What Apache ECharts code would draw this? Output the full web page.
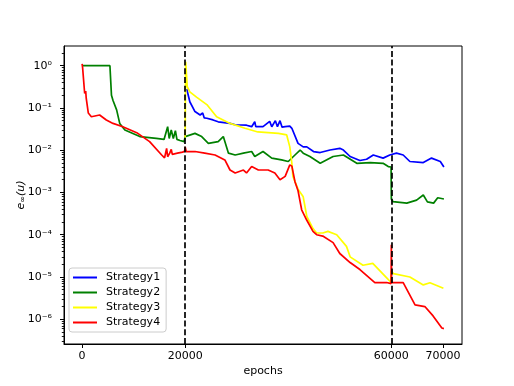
<!DOCTYPE html>
<html>
<head>
<meta charset="utf-8">
<script src="https://cdn.jsdelivr.net/npm/echarts@6/dist/echarts.min.js"></script>
<style>
  html, body { margin: 0; padding: 0; background: #fff; }
  #main { width: 514px; height: 386px; }
</style>
</head>
<body>
<div id="main"></div>
<script>
// series names / colours
var names = ['Strategy1', 'Strategy2', 'Strategy3', 'Strategy4'];
var colors = ['#0000ff', '#008000', '#ffff00', '#ff0000'];

// axis ticks
var xTicks = [0, 20000, 60000, 70000];
var yTicks = [1e-6, 1e-5, 1e-4, 1e-3, 1e-2, 1e-1, 1];
var switchEpochs = [20000, 60000];

// Strategy1 (blue)
var s1X = [20300, 20900, 21900, 22900, 23400, 23700, 24200, 25400, 26400, 28700, 29700, 31900, 32900, 33500, 33700,
  35100, 36400, 36800, 37500, 37900, 38400, 38800, 39400, 40300, 40700, 41900, 42900, 43600, 44900, 46200, 48100,
  50000, 50700, 52000, 53900, 55200, 56500, 58400, 59700, 61000, 62300, 63600, 66200, 67800, 69500, 70200];
var s1Y = [0.28, 0.14, 0.082, 0.068, 0.076, 0.058, 0.057, 0.052, 0.047, 0.043, 0.040, 0.039, 0.036, 0.047, 0.036,
  0.036, 0.048, 0.036, 0.05, 0.036, 0.05, 0.035, 0.036, 0.037, 0.033, 0.0145, 0.012, 0.012, 0.0093, 0.0088, 0.0101,
  0.0111, 0.0101, 0.0071, 0.0057, 0.0061, 0.0077, 0.0065, 0.0077, 0.0085, 0.0077, 0.0054, 0.0051, 0.0065, 0.0054, 0.0040];

// Strategy2 (green)
var s2X = [0, 5400, 5700, 6000, 6700, 7300, 8300, 11200, 14400, 15900, 16600, 16900, 17300, 17700, 18100, 18400, 19000, 19800,
  20000, 21900, 23200, 24500, 26400, 27400, 28400, 29700, 31300, 32900, 33500, 35100, 36800, 38700, 40000, 41300, 42300,
  42900, 44200, 46200, 48700, 50700, 53300, 55900, 58400, 59400, 59950, 60000, 60300, 63000, 64900, 66200, 67000, 68200, 69000, 70200];
var s2Y = [1.0, 1.0, 0.2, 0.15, 0.09, 0.043, 0.030, 0.021, 0.019, 0.018, 0.036, 0.019, 0.030, 0.019, 0.029, 0.018, 0.017, 0.016,
  0.021, 0.025, 0.021, 0.0145, 0.016, 0.021, 0.0085, 0.0077, 0.0085, 0.0093, 0.0071, 0.0093, 0.0065, 0.0059, 0.0054, 0.0077, 0.0101,
  0.0085, 0.0071, 0.0049, 0.0071, 0.0077, 0.0049, 0.0051, 0.0049, 0.0041, 0.0040, 0.0007, 0.00061, 0.00056, 0.00066, 0.00087, 0.0006, 0.00056, 0.00075, 0.0007];

// Strategy3 (yellow)
var s3X = [20000, 20100, 20400, 20900, 22200, 24200, 26100, 28700, 31600, 34100, 38100, 39700, 40300, 40700, 40900, 41900,
  42900, 43600, 44800, 45500, 46700, 47700, 49400, 51300, 52000, 54500, 56400, 59100, 59900, 60000, 60400, 63600, 66200, 67500, 70100, 70200];
var s3Y = [0.02, 1.24, 0.32, 0.24, 0.18, 0.12, 0.062, 0.043, 0.033, 0.027, 0.025, 0.023, 0.012, 0.0049, 0.0024, 0.0012,
  0.00079, 0.00027, 0.00014, 0.00011, 0.00011, 0.00012, 0.0001, 0.000053, 0.00003, 0.000019, 0.000021, 0.0000095, 0.0000075, 0.000014,
  0.000012, 0.00001, 0.0000065, 0.0000073, 0.0000054, 0.0000055];

// Strategy4 (red)
var s4X = [0, 100, 500, 700, 800, 1200, 1800, 3400, 4700, 6000, 7900, 10600, 13100, 15400, 16000, 16400, 16600, 17000, 17300, 17500,
  18500, 19500, 19900, 20000, 20200, 21900, 23800, 25800, 27700, 28700, 29700, 31300, 31900, 32900, 34200, 36100, 37400, 38400,
  39400, 40300, 40700, 41300, 41900, 42600, 43600, 44800, 45500, 46700, 48700, 50000, 52000, 53900, 56800, 59100, 59950, 60000,
  60050, 62300, 64600, 66500, 68100, 69800, 70200];
var s4Y = [1.1, 0.9, 0.22, 0.25, 0.17, 0.076, 0.062, 0.068, 0.052, 0.043, 0.036, 0.026, 0.016, 0.0078, 0.0066, 0.011, 0.007, 0.0085, 0.0105, 0.008,
  0.0085, 0.009, 0.0095, 0.012, 0.0093, 0.0093, 0.0085, 0.0077, 0.0059, 0.0034, 0.0029, 0.0034, 0.0029, 0.0041, 0.0034, 0.0034, 0.0029, 0.002,
  0.0024, 0.0045, 0.0042, 0.0018, 0.0011, 0.00039, 0.00022, 0.00012, 0.0001, 0.000093, 0.000065, 0.000036, 0.000022, 0.000015, 0.0000074, 0.0000074, 0.000007, 0.000058,
  0.0000074, 0.0000074, 0.0000022, 0.000002, 0.0000012, 0.00000062, 0.0000006];

var xs = [s1X, s2X, s3X, s4X];
var ys = [s1Y, s2Y, s3Y, s4Y];

// 10^n with superscript exponent
var sup = {'0':'⁰','1':'¹','2':'²','3':'³','4':'⁴','5':'⁵','6':'⁶','7':'⁷','8':'⁸','9':'⁹','-':'⁻'};
function powLabel(v) {
    var e = String(Math.round(Math.log10(v)));
    var s = '';
    for (var i = 0; i < e.length; i++) s += sup[e[i]];
    return '10' + s;
}

// minor ticks 2..9 x 10^k
var yMinor = [];
for (var k = -7; k <= 0; k++) {
    for (var m = 2; m <= 9; m++) yMinor.push(m * Math.pow(10, k));
}

var font = 'DejaVu Sans';
var series = [];
for (var i = 0; i < names.length; i++) {
    var pts = [];
    for (var j = 0; j < xs[i].length; j++) pts.push([xs[i][j], ys[i][j]]);
    var s = {
        name: names[i],
        type: 'line',
        data: pts,
        showSymbol: false,
        symbol: 'none',
        lineStyle: { color: colors[i], width: 1.7 },
        itemStyle: { color: colors[i] },
        animation: false
    };
    if (i == 0) {
        // 策略切换处的竖虚线
        s.markLine = {
            silent: true,
            symbol: ['none', 'none'],
            label: { show: false },
            lineStyle: { color: '#000', type: [6, 2.7], width: 1.7 },
            data: switchEpochs.map(function (v) { return { xAxis: v }; })
        };
    }
    series.push(s);
}

var myChart = echarts.init(document.getElementById('main'));
var option = {
    animation: false,
    backgroundColor: '#fff',
    grid: { left: 64, top: 46, right: 52, bottom: 42, show: true, borderColor: '#000', borderWidth: 1, backgroundColor: 'transparent' },
    legend: {
        left: 69, top: 268, orient: 'vertical',
        icon: 'rect', itemWidth: 24, itemHeight: 2, itemGap: 4,
        padding: [4, 6, 4, 4],
        backgroundColor: 'rgba(255,255,255,0.8)',
        borderColor: '#cccccc', borderWidth: 1, borderRadius: 3,
        textStyle: { fontFamily: font, fontSize: 11, color: '#000', padding: [0, 0, 0, 4] },
        data: names
    },
    xAxis: {
        type: 'value', min: -3510, max: 73710,
        name: 'epochs', nameLocation: 'middle', nameGap: 22, nameMoveOverlap: false,
        nameTextStyle: { fontFamily: font, fontSize: 11, color: '#000' },
        axisLine: { onZero: false, lineStyle: { color: '#000', width: 1 } },
        axisTick: { customValues: xTicks, length: 4, lineStyle: { color: '#000' } },
        axisLabel: {
            customValues: xTicks, margin: 7, fontFamily: font, fontSize: 11, color: '#000',
            formatter: function (v) { return String(v); }
        },
        splitLine: { show: false }
    },
    yAxis: [{
        type: 'log', logBase: 10, min: 2.6e-7, max: 2.92,
        name: '{e|e}{s|∞}{e|(u)}', nameLocation: 'middle', nameGap: 37, nameMoveOverlap: false,
        nameTextStyle: {
            rich: {
                e: { fontFamily: font, fontSize: 11, fontStyle: 'italic', color: '#000' },
                s: { fontFamily: font, fontSize: 8, color: '#000', verticalAlign: 'bottom', padding: [4, 0, 0, 0] }
            }
        },
        axisLine: { onZero: false, lineStyle: { color: '#000', width: 1 } },
        axisTick: { customValues: yTicks, length: 4, lineStyle: { color: '#000' } },
        axisLabel: { customValues: yTicks, margin: 12, fontFamily: font, fontSize: 11, color: '#000', formatter: powLabel },
        splitLine: { show: false }
    }, {
        // 次刻度
        type: 'log', logBase: 10, min: 2.6e-7, max: 2.92, position: 'left',
        axisLine: { show: false, onZero: false },
        axisTick: { show: true, customValues: yMinor, length: 2.2, lineStyle: { color: '#000', width: 0.9 } },
        axisLabel: { show: false },
        splitLine: { show: false }
    }],
    series: series
};
myChart.setOption(option);
</script>
</body>
</html>
